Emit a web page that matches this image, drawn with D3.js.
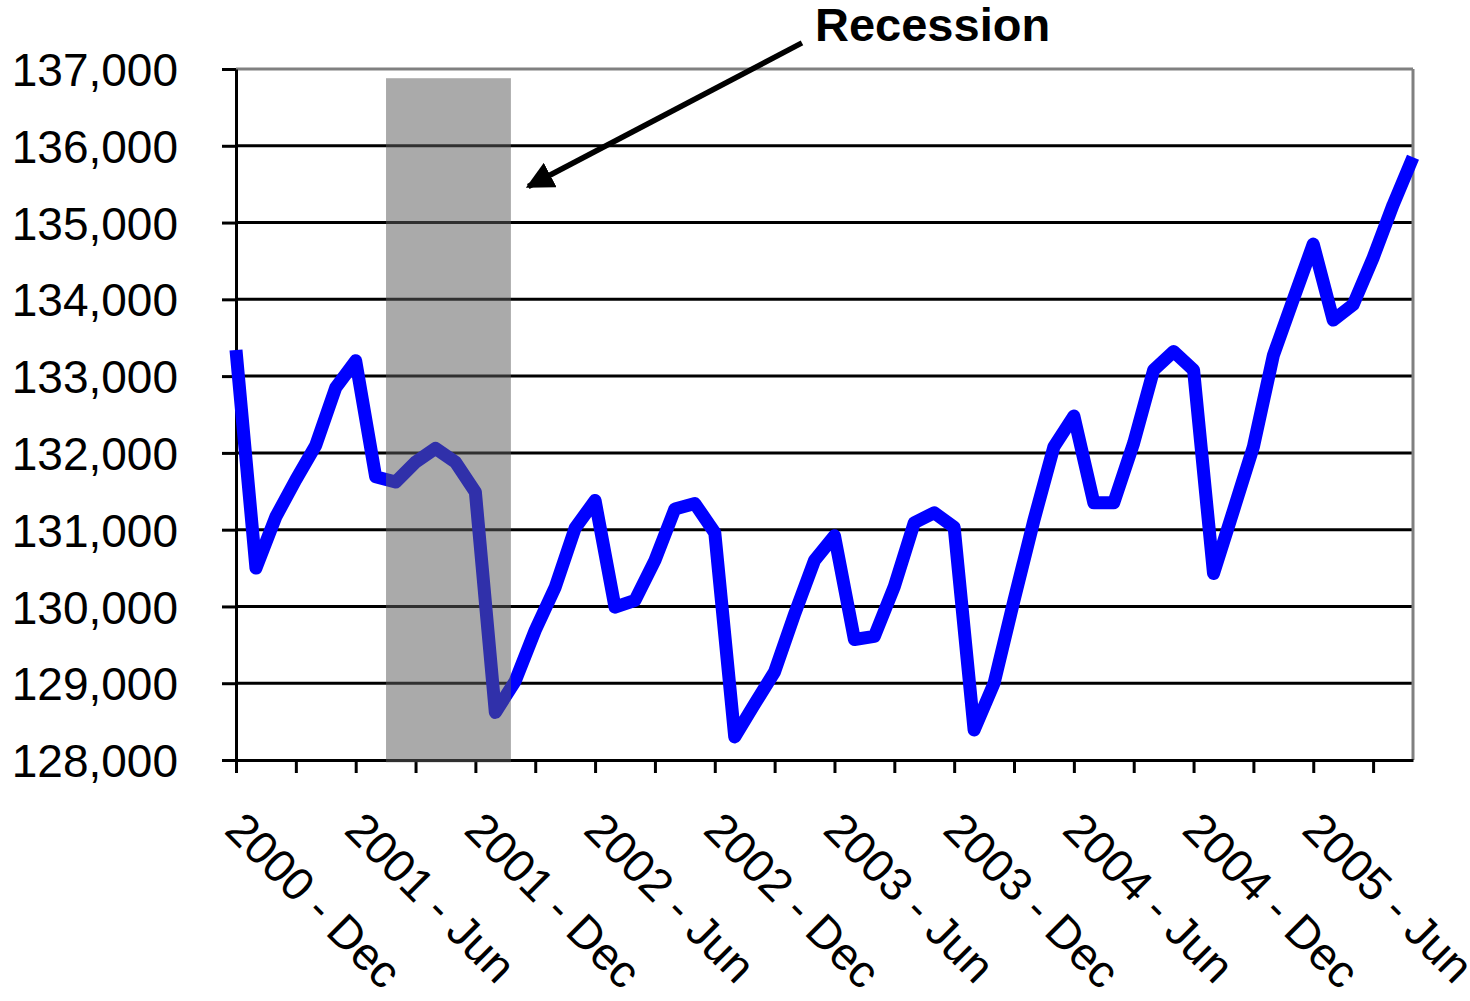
<!DOCTYPE html>
<html>
<head>
<meta charset="utf-8">
<script src="https://cdn.jsdelivr.net/npm/d3@7"></script>
<style>
  body { margin: 0; background: #fff; }
  svg { display: block; font-family: Arial, "Liberation Sans", sans-serif; }
</style>
</head>
<body>
<svg id="chart" width="1470" height="1001"></svg>
<script>
// monthly employment, Dec 2000 .. Nov 2005 (thousands)
var employment = [
  133340, 130500, 131170, 131650, 132100, 132850, 133200, 131690, 131620, 131880,
  132060, 131880, 131490, 128620, 129030, 129690, 130250, 131020, 131380, 129990,
  130080, 130600, 131270, 131340, 130960, 128300, 128730, 129150, 129900, 130600,
  130920, 129570, 129610, 130260, 131090, 131220, 131030, 128390, 129000, 130080,
  131125, 132080, 132480, 131350, 131350, 132130, 133080, 133320, 133080, 130430,
  131250, 132080, 133270, 134000, 134720, 133730, 133930, 134540, 135230, 135850
]
var tickIndex = d3.range(0, employment.length, 3)
var labelIndex = [0, 6, 12, 18, 24, 30, 36, 42, 48, 54]
var tickLabels = ['2000 - Dec', '2001 - Jun', '2001 - Dec', '2002 - Jun', '2002 - Dec',
                  '2003 - Jun', '2003 - Dec', '2004 - Jun', '2004 - Dec', '2005 - Jun']
var yTicks = [128000, 129000, 130000, 131000, 132000, 133000, 134000, 135000, 136000, 137000]
// shaded recession (month index range, value range)
var recession = { x0: 7.52, x1: 13.78, y0: 127970, y1: 136880 }
// arrow from label to band (month index, value)
var arrowFrom = [28.37, 137340]
var arrowTo = [14.65, 135470]

var svg = d3.select('#chart')

var x = d3.scaleLinear().domain([0, employment.length - 1]).range([236, 1413])
var y = d3.scaleLinear().domain([128000, 137000]).range([760, 69])

// gridlines
svg.append('g').selectAll('line')
  .data(yTicks.slice(1))
  .enter().append('line')
  .attr('x1', x(0)).attr('x2', x(employment.length - 1))
  .attr('y1', function(d){return y(d)}).attr('y2', function(d){return y(d)})
  .attr('stroke', function(d){return d == 137000 ? '#808080' : '#000'})
  .attr('stroke-width', 3)

// right border
svg.append('line')
  .attr('x1', x(employment.length - 1)).attr('x2', x(employment.length - 1))
  .attr('y1', y(137000)).attr('y2', y(128000))
  .attr('stroke', '#808080').attr('stroke-width', 3)

// x axis
var xAxis = svg.append('g')
  .attr('transform', 'translate(0,' + y(128000) + ')')
  .call(d3.axisBottom(x).tickValues(tickIndex).tickSize(13).tickFormat('').tickSizeOuter(0))
xAxis.select('.domain').attr('stroke', '#000').attr('stroke-width', 3)
xAxis.selectAll('.tick line').attr('stroke', '#000').attr('stroke-width', 3)

svg.append('g').selectAll('text')
  .data(labelIndex)
  .enter().append('text')
  .attr('transform', function(d){return 'translate(' + (x(d) - 13) + ',832) rotate(45)'})
  .attr('font-size', 46)
  .attr('fill', '#000')
  .text(function(d, i){return tickLabels[i]})

// y axis
var yAxis = svg.append('g')
  .attr('transform', 'translate(' + x(0) + ',0)')
  .call(d3.axisLeft(y).tickValues(yTicks).tickSize(14).tickPadding(44)
    .tickFormat(d3.format(',')).tickSizeOuter(0))
yAxis.select('.domain').attr('stroke', '#000').attr('stroke-width', 3)
yAxis.selectAll('.tick line').attr('stroke', '#000').attr('stroke-width', 3)
yAxis.selectAll('.tick text')
  .attr('font-size', 46).attr('fill', '#000')
  .attr('font-family', 'Arial, "Liberation Sans", sans-serif')
  .attr('dy', '0.36em')

// line
var line = d3.line()
  .x(function(d, i){return x(i)})
  .y(function(d){return y(d)})
svg.append('path')
  .datum(employment)
  .attr('d', line)
  .attr('fill', 'none')
  .attr('stroke', '#0000ff')
  .attr('stroke-width', 13)
  .attr('stroke-linejoin', 'round')

// recession band, semi transparent over the line
svg.append('rect')
  .attr('x', x(recession.x0))
  .attr('width', x(recession.x1) - x(recession.x0))
  .attr('y', y(recession.y1))
  .attr('height', y(recession.y0) - y(recession.y1))
  .attr('fill', 'rgb(92,92,92)')
  .attr('fill-opacity', 0.52)

// arrow + label
var defs = svg.append('defs')
defs.append('marker')
  .attr('id', 'head')
  .attr('viewBox', '0 0 10 10')
  .attr('refX', 9).attr('refY', 5)
  .attr('markerWidth', 5).attr('markerHeight', 5)
  .attr('markerUnits', 'strokeWidth')
  .attr('orient', 'auto')
  .append('path').attr('d', 'M0,0 L10,5 L0,10 Z').attr('fill', '#000')

svg.append('line')
  .attr('x1', x(arrowFrom[0])).attr('y1', y(arrowFrom[1]))
  .attr('x2', x(arrowTo[0])).attr('y2', y(arrowTo[1]))
  .attr('stroke', '#000').attr('stroke-width', 5.5)
  .attr('marker-end', 'url(#head)')

svg.append('text')
  .attr('x', 815).attr('y', 41)
  .attr('font-size', 47).attr('font-weight', 'bold')
  .text('Recession')
</script>
</body>
</html>
